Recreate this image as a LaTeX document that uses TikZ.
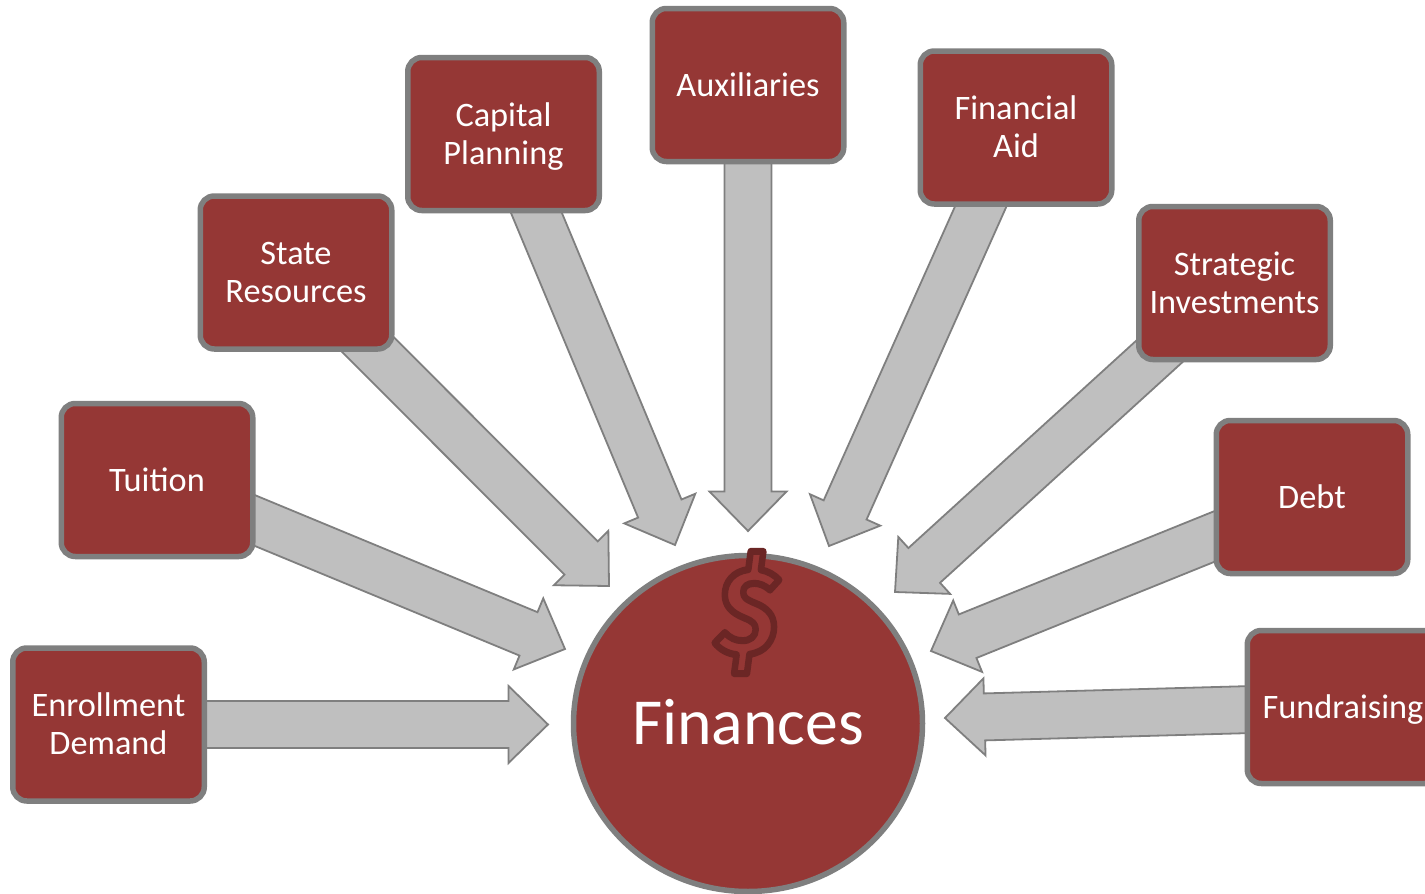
\documentclass[tikz,border=0pt]{standalone}
\usepackage{fontspec}
\setmainfont{Carlito}
\newfontfamily\dollarfont{Fira Sans}
\usetikzlibrary{calc,shapes.geometric}
\pgfdeclarelayer{arrows}
\pgfsetlayers{arrows,main}
\definecolor{boxred}{HTML}{953735}
\definecolor{edgegray}{HTML}{7F7F7F}
\definecolor{arrowgray}{HTML}{BFBFBF}
\definecolor{dollardark}{HTML}{6B2625}
\newcommand{\ls}{\rule[-8pt]{0pt}{38pt}}
\tikzset{
  x=1pt,y=-1pt,
  finbox/.style={draw=edgegray,line width=5.5pt,fill=boxred,rounded corners=14pt,
    minimum width=191.5pt,minimum height=153pt,inner sep=0pt,align=center,text=white,
    font=\fontsize{34.3}{38}\selectfont},
  hub/.style={draw=edgegray,line width=5.5pt,fill=boxred,ellipse,minimum width=349pt,minimum height=336pt,inner sep=0pt},
  hublabel/.style={text=white,inner sep=0pt,font=\fontsize{65.7}{80}\selectfont},
  bigarrow/.style={draw=edgegray,line width=1.8pt,fill=arrowgray,line join=miter},
}
\newcommand{\blockarrow}[2]{%
  \coordinate (base) at ($(#2)!39.5pt!(#1.center)$);
  \draw[bigarrow] ($(#1.center)!23.5pt!90:(#2)$) -- ($(base)!23.5pt!90:(#2)$)
    -- ($(base)!38.5pt!90:(#2)$) -- (#2)
    -- ($(base)!38.5pt!-90:(#2)$) -- ($(base)!23.5pt!-90:(#2)$)
    -- ($(#1.center)!23.5pt!-90:(#2)$) -- cycle;
}
\begin{document}
\begin{tikzpicture}
\clip (0,0) rectangle (1425,894);
\node[hub] (finances) at (748,723.5) {};
\node[hublabel] (financeslabel) at (748,722.5) {Finances};
\node[inner sep=0pt,text=boxred,xscale=0.93,yscale=1.01,transform shape,font=\dollarfont\bfseries\itshape\fontsize{122}{122}\selectfont] (dollar) at (747,612.5)
  {\special{pdf:literal direct 2 Tr 7 w 0.42 0.149 0.145 RG 1 J 1 j}\$\special{pdf:literal direct 0 Tr}};
\node[finbox] (enroll) at (108.5,724.5) {\ls Enrollment\\\ls Demand};
\node[finbox] (tuition) at (157,480) {\ls Tuition};
\node[finbox] (state) at (296,272.5) {\ls State\\\ls Resources};
\node[finbox] (capital) at (503.5,134) {\ls Capital\\\ls Planning};
\node[finbox] (aux) at (748,85) {\ls Auxiliaries};
\node[finbox] (aid) at (1016,127.5) {\ls Financial\\\ls Aid};
\node[finbox] (strategic) at (1234.5,283) {\ls Strategic\\\ls Investments};
\node[finbox] (debt) at (1312,497) {\ls Debt};
\node[finbox] (fund) at (1343,707) {\ls Fundraising};
\coordinate (tipenroll) at (548,724.5);
\coordinate (tiptuition) at (565,649);
\coordinate (tipstate) at (609,586);
\coordinate (tipcapital) at (675,545);
\coordinate (tipaux) at (748,531);
\coordinate (tipaid) at (829,546);
\coordinate (tipstrategic) at (895,592);
\coordinate (tipdebt) at (931,651);
\coordinate (tipfund) at (945,718);
\begin{pgfonlayer}{arrows}
\blockarrow{enroll}{tipenroll}
\blockarrow{tuition}{tiptuition}
\blockarrow{state}{tipstate}
\blockarrow{capital}{tipcapital}
\blockarrow{aux}{tipaux}
\blockarrow{aid}{tipaid}
\blockarrow{strategic}{tipstrategic}
\blockarrow{debt}{tipdebt}
\blockarrow{fund}{tipfund}
\end{pgfonlayer}
\end{tikzpicture}
\end{document}
